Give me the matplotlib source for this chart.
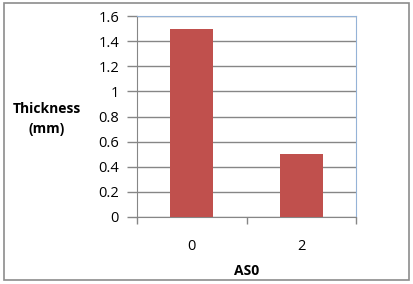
import matplotlib.pyplot as plt
from matplotlib.patches import Rectangle

categories = ["0", "2"]
thickness = [1.5, 0.5]
y_ticks = [0, 0.2, 0.4, 0.6, 0.8, 1, 1.2, 1.4, 1.6]
y_tick_labels = ["0", "0.2", "0.4", "0.6", "0.8", "1", "1.2", "1.4", "1.6"]

plt.rcParams["font.family"] = ["Open Sans", "DejaVu Sans"]

fig = plt.figure(figsize=(4.13, 2.84), dpi=100)
fig.patches.append(Rectangle((4 / 413, 4 / 284), 405 / 413, 277 / 284,
                             transform=fig.transFigure, fill=False,
                             edgecolor="#8c8c8c", linewidth=1.2))

ax = fig.add_axes([137 / 413, 1 - 217 / 284, 219 / 413, 201 / 284])
x = range(len(categories))
ax.bar(x, thickness, width=0.39, color="#C0504D", zorder=3)

ax.set_xlim(-0.5, 1.5)
ax.set_ylim(0, 1.6)
ax.set_yticks(y_ticks)
ax.set_yticklabels(y_tick_labels, fontsize=10.5)
ax.set_xticks(list(x))
ax.set_xticklabels(categories, fontsize=10.5)
ax.set_xticks([-0.5, 0.5, 1.5], minor=True)
ax.tick_params(axis="x", which="major", length=0, pad=16)
ax.tick_params(axis="x", which="minor", length=5, color="#868686", width=1)
ax.tick_params(axis="y", length=7, pad=6, color="#868686", width=1)

ax.grid(axis="y", color="#868686", linewidth=1, zorder=0)
for side in ("left", "bottom"):
    ax.spines[side].set_color("#868686")
for side in ("top", "right"):
    ax.spines[side].set_color("#95b3d7")

ax.set_xlabel("AS0", fontsize=10, fontweight="bold", labelpad=7)
fig.text(47 / 413, 1 - 119 / 284, "Thickness\n(mm)", fontsize=10,
         fontweight="bold", ha="center", va="center", linespacing=1.5)

fig.savefig("out.png", dpi=100)
